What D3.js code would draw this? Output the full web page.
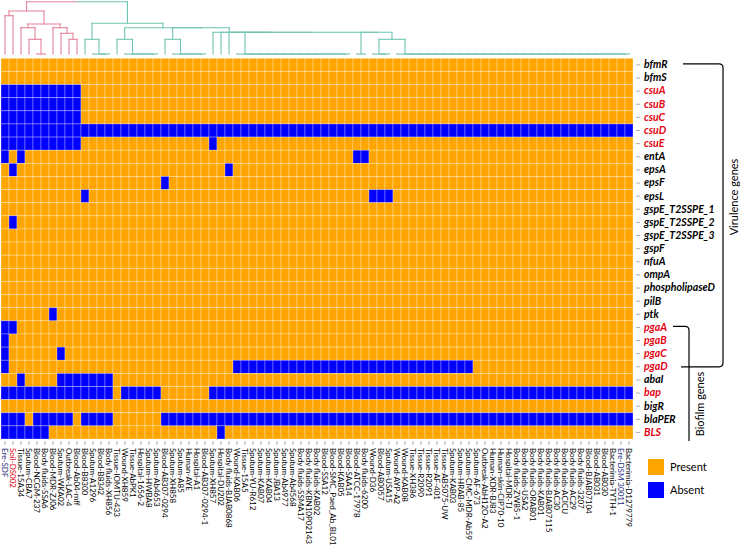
<!DOCTYPE html>
<html><head><meta charset="utf-8">
<script src="https://cdn.jsdelivr.net/npm/d3@7"></script>
<style>body{margin:0;background:#fff} svg{display:block}</style>
</head><body>
<svg id="c" width="740" height="546"></svg>
<script>
const genes = ["bfmR","bfmS","csuA","csuB","csuC","csuD","csuE","entA","epsA","epsF","epsL",
  "gspE_T2SSPE_1","gspE_T2SSPE_2","gspE_T2SSPE_3","gspF","nfuA","ompA","phospholipaseD","pilB","ptk",
  "pgaA","pgaB","pgaC","pgaD","abaI","bap","bigR","blaPER","BLS"];
const redGenes = ["csuA","csuB","csuC","csuD","csuE","pgaA","pgaB","pgaC","pgaD","bap","BLS"];
const strains = ["Ere-SDF","Soil-DS002","Tissue-15A34","Sputum-CBA7","Blood-NCGM-237","Body fluids-SSA6",
  "Blood-MDR-ZJ06","Sputum-WKA02","Outbreak-LAC-4","Blood-Ab04-mff","Blood-B8300","Sputum-A1296","Blood-B8342",
  "Body fluids-XH856","Tissue-IOMTU-433","Wound-XH859","Tissue-AbPK1","Hospital-1656-2","Sputum-HWBA8",
  "Sputum-Ab4653","Blood-AB307-0294","Sputum-XH858","Sputum-A85","Human-AYE","Hospital-A1","Blood-AB307-0294-1",
  "Sputum-XH857","Hospital-DU202","Body fluids-BJAB0868","Wound-KAB06","Tissue-15A5","Sputum-YU-R612",
  "Sputum-KAB07","Sputum-KAB04","Sputum-JBA13","Sputum-Ab4977","Sputum-Ab4568","Body fluids-SSMA17",
  "Body fluids-KBN10P02143","Body fluids-KAB02","Blood-SSA12","Blood-SMC_Paed_Ab_BL01","Blood-KAB05",
  "Blood-SAA14","Blood-ATCC-17978","Body fluids-6200","Wound-D36","Blood-AB0057","Sputum-USA15",
  "Wound-AYP-A2","Wound-KAB08","Tissue-XH386","Tissue-R2090","Tissue-R2091","Tissue-AF-401",
  "Tissue-AB5075-UW","Sputum-KAB03","Sputum-HRAB-85","Sputum-CMC-MDR-Ab59","Sputum-AF-673",
  "Outbreak-AbH12O-A2","Human-XDR-BJ83","Human-skin-CIP70-10","Hospital-MDR-TJ","Body fluids-ZW85-1",
  "Body fluids-USA2","Body fluids-ORAB01","Body fluids-KAB01","Body fluids-BJAB07115","Body fluids-AC30",
  "Body fluids-ACICU","Body fluids-AC29","Body fluids-3207","Blood-BJAB07104","Blood-AB031","Blood-AB030",
  "Bacterimia-TYTH-1","Ere-DSM 30011","Bacterimia-D1279779"];
const redStrains = ["Soil-DS002"];
const navyStrains = ["Ere-SDF","Ere-DSM 30011"];
// absent (blue) column runs per gene, [first, last] column index
const absentRuns = [
  [], [],
  [[0,9]], [[0,9]], [[0,9]],
  [[0,78]],
  [[0,9],[26,26]],
  [[0,0],[2,2],[44,45]],
  [[1,1],[28,28]],
  [[20,20]],
  [[10,10],[46,48]],
  [], [[1,1]], [], [], [], [], [], [],
  [[6,6]],
  [[0,1]],
  [[0,0]],
  [[0,0],[7,7]],
  [[0,0],[29,58]],
  [[2,2],[7,13]],
  [[0,13],[15,19],[26,78]],
  [],
  [[0,2],[4,8],[10,13],[20,78]],
  [[0,5],[27,27]]
];
const legendLabels = ["Present","Absent"];
const bracketGroups = [["Virulence genes","bfmR","pgaD"],["Biofilm genes","pgaA","BLS"]];
// column dendrogram: [height, left, right]; number = leaf column; {flat:[...]} = identical leaves
const dendroPink = [43, [38.3, 0, 1], [30, [26.3, 2, [14.7, 3, {flat:[4,5]}]], [26.3, 6, [20.7, 7, [14.7, 8, 9]]]]];
const dendroTeal = [30.7,
  [14.7, 10, {flat:[11,12,13]}],
  [26.3, [14.7, 14, {flat:[15,16,17,18,19]}],
    [26.3, [14.7, 20, {flat:[21,22,23,24,25]}],
      [21.7, 26, [21.7, 27, [21.7, 28, [21.7, {flat:[29,30,31,32,33,34,35,36,37,38,39,40,41,42,43]},
        [21.7, {flat:[44,45]}, [14.7, {flat:[46,47,48]},
          {flat:[49,50,51,52,53,54,55,56,57,58,59,60,61,62,63,64,65,66,67,68,69,70,71,72,73,74,75,76,77,78]}]]]]]]]]];
const rootHeight = 52.3;

const svg = d3.select("#c");
const x = d3.scaleBand().domain(strains).range([1, 633]);
const y = d3.scaleBand().domain(genes).range([58.3, 439]);
const hY = d3.scaleLinear().domain([0, rootHeight]).range([54, 1.7]);
const fill = d3.scaleOrdinal().domain([0,1]).range(["#FFA500","#0000FF"]);

// cells
const cells = [];
genes.forEach((g, r) => strains.forEach((s, c) => {
  const ab = absentRuns[r].some(([a,b]) => c >= a && c <= b);
  cells.push({g, s, v: ab ? 1 : 0});
}));
svg.append("g").selectAll("rect").data(cells).join("rect")
  .attr("x", d => x(d.s)).attr("y", d => y(d.g))
  .attr("width", x.bandwidth()).attr("height", y.bandwidth())
  .attr("fill", d => fill(d.v))
  .attr("stroke", "rgba(255,255,255,0.42)").attr("stroke-width", 0.7);

// dendrogram
function toTree(n){
  if (typeof n === "number") return {leaf:n, h:0};
  if (!Array.isArray(n) && n.flat){
    const f = n.flat; let t = {leaf:f[f.length-1], h:0};
    for (let i = f.length-2; i >= 0; i--) t = {h:0, children:[{leaf:f[i], h:0}, t]};
    return t;
  }
  return {h:n[0], children:[toTree(n[1]), toTree(n[2])]};
}
function setX(t){
  if (t.children){ t.children.forEach(setX); t.x = (t.children[0].x + t.children[1].x)/2; }
  else t.x = x(strains[t.leaf]) + x.bandwidth()/2;
}
const segs = [];
function collect(t, col){
  if (!t.children) return;
  const [a,b] = t.children;
  segs.push([a.x, hY(a.h), a.x, hY(t.h), col]);
  segs.push([b.x, hY(b.h), b.x, hY(t.h), col]);
  segs.push([a.x, hY(t.h), b.x, hY(t.h), col]);
  collect(a, col); collect(b, col);
}
const pink = "#E4829A", teal = "#6FC4B3";
const P = toTree(dendroPink), T = toTree(dendroTeal);
setX(P); setX(T);
collect(P, pink); collect(T, teal);
const mid = (P.x + T.x)/2;
segs.push([P.x, hY(P.h), P.x, hY(rootHeight), pink]);
segs.push([T.x, hY(T.h), T.x, hY(rootHeight), teal]);
segs.push([P.x, hY(rootHeight), mid, hY(rootHeight), pink]);
segs.push([mid, hY(rootHeight), T.x, hY(rootHeight), teal]);
svg.append("g").selectAll("line").data(segs).join("line")
  .attr("x1", d => d[0]).attr("y1", d => d[1]).attr("x2", d => d[2]).attr("y2", d => d[3])
  .attr("stroke", d => d[4]).attr("stroke-width", 1.1).attr("stroke-linecap", "square");

// bottom axis (strains)
const gx = svg.append("g").attr("transform", "translate(0,441)")
  .call(d3.axisBottom(x).tickSizeInner(4).tickSizeOuter(0).tickPadding(4));
gx.select(".domain").remove();
gx.selectAll(".tick line").attr("stroke", "#777").attr("stroke-width", 0.6);
gx.selectAll(".tick text")
  .attr("transform", "rotate(90)").attr("x", 7).attr("y", 0).attr("dy", "0.35em")
  .style("text-anchor", "start").style("font-family", "Lato, sans-serif").style("font-size", "8px")
  .attr("fill", d => redStrains.includes(d) ? "#E4000F" : navyStrains.includes(d) ? "#1B2A80" : "#000");

// right axis (genes)
const gy = svg.append("g").attr("transform", "translate(636,0)")
  .call(d3.axisRight(y).tickSizeInner(4).tickSizeOuter(0).tickPadding(4));
gy.select(".domain").remove();
gy.selectAll(".tick line").attr("stroke", "#777").attr("stroke-width", 0.6);
gy.selectAll(".tick text")
  .style("font-family", "Lato, sans-serif").style("font-size", "10.5px")
  .style("font-style", "italic").style("font-weight", "bold")
  .attr("fill", d => redGenes.includes(d) ? "#E4000F" : "#000");

// brackets
const bx = [723, 689], bl = [683, 673];
bracketGroups.forEach(([label, g1, g2], i) => {
  const yt = y(g1) + y.bandwidth()/2 - 1, yb = y(g2) + y.bandwidth()/2;
  const p = d3.path();
  p.moveTo(bl[i], yt); p.lineTo(bx[i]-4, yt); p.quadraticCurveTo(bx[i], yt, bx[i], yt+4);
  if (i === 0){ p.lineTo(bx[i], yb-4); p.quadraticCurveTo(bx[i], yb, bx[i]-4, yb); p.lineTo(681, yb); }
  else { p.lineTo(bx[i], 441); }
  svg.append("path").attr("d", p.toString()).attr("fill", "none").attr("stroke", "#000").attr("stroke-width", 1.2);
  const cy = i === 0 ? 197 : 404;
  svg.append("text").attr("transform", `translate(${bx[i]+11},${cy}) rotate(-90)`)
    .attr("text-anchor", "middle").attr("dy", "0.35em")
    .style("font-family", "Lato, sans-serif").style("font-size", "11px").text(label);
});

// legend
const lg = svg.append("g");
legendLabels.forEach((t, i) => {
  lg.append("rect").attr("x", 648).attr("y", 459 + i*23).attr("width", 16).attr("height", 16).attr("fill", fill(i));
  lg.append("text").attr("x", 670).attr("y", 467 + i*23).attr("dy", "0.35em")
    .style("font-family", "Lato, sans-serif").style("font-size", "11px").text(t);
});
</script>
</body></html>
